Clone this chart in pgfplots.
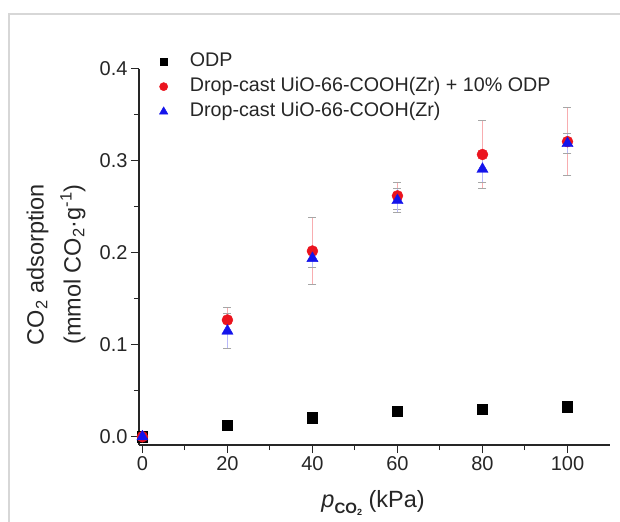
\documentclass[border=0pt]{standalone}
\usepackage{fontspec}
\setmainfont{Liberation Sans}
\usepackage{pgfplots}
\pgfplotsset{compat=1.18}
\definecolor{framegray}{RGB}{215,215,215}
\definecolor{odpred}{RGB}{235,20,30}
\definecolor{uioblue}{RGB}{20,20,235}
\begin{document}
\begin{tikzpicture}
\begin{axis}[
  scale only axis,
  width=471bp, height=376bp,
  xmin=-0.8, xmax=110,
  ymin=-0.009, ymax=0.4,
  axis x line*=bottom, axis y line*=left,
  axis line style={line width=1.2bp, color=black!85},
  xtick={0,20,40,60,80,100},
  ytick={0,0.1,0.2,0.3,0.4},
  minor x tick num=1, minor y tick num=1,
  tick align=outside,
  major tick length=8bp, minor tick length=5bp,
  tick style={line width=1bp, color=black!85},
  yticklabel style={/pgf/number format/.cd, fixed, fixed zerofill, precision=1},
  /pgf/number format/assume math mode=true,
  tick label style={font=\fontsize{20bp}{22bp}\selectfont, color=black!85},
  label style={font=\fontsize{23.5bp}{37bp}\selectfont, color=black!85},
  xlabel={{\itshape p}\raisebox{-0.45ex}{\fontsize{15bp}{15bp}\selectfont\bfseries CO\raisebox{-0.35ex}{\fontsize{9bp}{9bp}\selectfont 2}}~(kPa)},
  ylabel={CO\textsubscript{2} adsorption\\(mmol CO\textsubscript{2}·g\textsuperscript{-1})},
  ylabel style={align=center, at={(rel axis cs:-0.176,0.48)}, anchor=center},
  xlabel style={at={(rel axis cs:0.497,-0.155)}, anchor=center},
  legend style={at={(rel axis cs:0.043,1.048)}, anchor=north west, draw=none, fill=none,
    inner sep=0pt, row sep=4bp, column sep=21bp, font=\fontsize{19.7bp}{22bp}\selectfont,
    nodes={inner sep=1bp, text height=14bp, text depth=5bp, text=black!85}},
  legend image post style={scale=0.75},
  legend cell align=left,
  error bars/y dir=both, error bars/y explicit,
  clip=false,
]
\addplot[only marks, mark=square*, mark size=5.2bp, color=black]
  coordinates {(0,0) (20,0.0127) (40,0.0206) (60,0.0279) (80,0.0300) (100,0.0326)};
\addlegendentry{ODP}
\addplot[only marks, mark=*, mark size=5.5bp, color=odpred,
  error bars/error bar style={color=odpred!35, line width=1bp},
  error bars/error mark options={rotate=90, mark size=4bp, color=black!35, line width=1bp}]
  coordinates {(0,0) +- (0,0)
    (20,0.127) +- (0,0.014)
    (40,0.202) +- (0,0.036)
    (60,0.262) +- (0,0.015)
    (80,0.307) +- (0,0.037)
    (100,0.321) +- (0,0.037)};
\addlegendentry{Drop-cast UiO-66-COOH(Zr) + 10\% ODP}
\addplot[only marks, mark=triangle*, mark size=6.5bp, color=uioblue,
  error bars/error bar style={color=uioblue!30, line width=1bp},
  error bars/error mark options={rotate=90, mark size=4bp, color=black!35, line width=1bp}]
  coordinates {(0,0) +- (0,0)
    (20,0.115) +- (0,0.019)
    (40,0.194) +- (0,0.010)
    (60,0.257) +- (0,0.013)
    (80,0.291) +- (0,0.015)
    (100,0.319) +- (0,0.011)};
\addlegendentry{Drop-cast UiO-66-COOH(Zr)}
\end{axis}
\pgfresetboundingbox
\useasboundingbox ([shift={(-139bp,-77bp)}]current axis.south west) rectangle ++(620bp,522bp);
\draw[framegray, line width=1.2bp] ([shift={(-130bp,-77bp)}]current axis.south west) -- ++(0,508bp) -- ++(611bp,0);
\end{tikzpicture}
\end{document}
